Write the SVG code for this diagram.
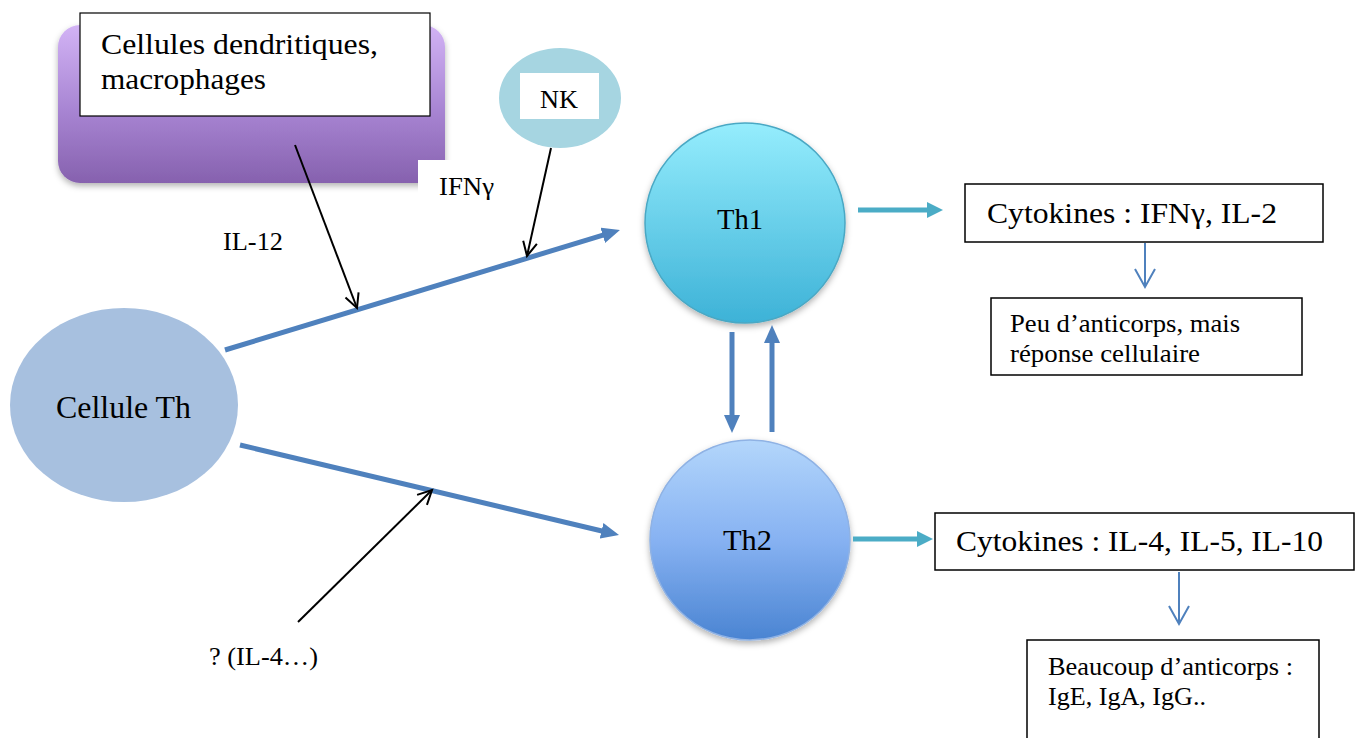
<svg xmlns="http://www.w3.org/2000/svg" width="1362" height="738" viewBox="0 0 1362 738">
<style>
  text { font-family: "Liberation Serif", "Times New Roman", serif; fill: #000; }
  .box { fill: #fff; stroke: #000; stroke-width: 1.5; }
  .thick { stroke: #4f81bd; stroke-width: 5; fill: none; }
  .teal { stroke: #4bacc6; stroke-width: 5; fill: none; }
  .blk { stroke: #000; stroke-width: 2; fill: none; }
  .thin { stroke: #4f81bd; stroke-width: 2; fill: none; }
</style>
<defs>
  <linearGradient id="gPurple" x1="0" y1="0" x2="0" y2="1">
    <stop offset="0" stop-color="#d2b3f5"/>
    <stop offset="0.55" stop-color="#a784d2"/>
    <stop offset="1" stop-color="#8661ae"/>
  </linearGradient>
  <linearGradient id="gTh1" x1="0" y1="0" x2="0" y2="1">
    <stop offset="0" stop-color="#95edfd"/>
    <stop offset="1" stop-color="#3db2d7"/>
  </linearGradient>
  <linearGradient id="gTh2" x1="0" y1="0" x2="0" y2="1">
    <stop offset="0" stop-color="#b3d6fb"/>
    <stop offset="0.5" stop-color="#87b2f2"/>
    <stop offset="1" stop-color="#4a84d2"/>
  </linearGradient>
  <filter id="shadow" x="-10%" y="-10%" width="120%" height="130%">
    <feDropShadow dx="0" dy="3" stdDeviation="3" flood-color="#000" flood-opacity="0.3"/>
  </filter>
  <marker id="mBlue" markerUnits="userSpaceOnUse" markerWidth="18" markerHeight="16" viewBox="0 0 18 16" refX="8" refY="8" orient="auto">
    <path d="M0,0 L18,8 L0,16 z" fill="#4f81bd"/>
  </marker>
  <marker id="mTeal" markerUnits="userSpaceOnUse" markerWidth="16" markerHeight="16" viewBox="0 0 16 16" refX="6" refY="8" orient="auto">
    <path d="M0,0 L16,8 L0,16 z" fill="#4bacc6"/>
  </marker>
  <marker id="mBlack" markerUnits="userSpaceOnUse" markerWidth="18" markerHeight="18" viewBox="0 0 18 18" refX="15" refY="9" orient="auto">
    <path d="M1,2 L15,9 L1,16" fill="none" stroke="#000" stroke-width="2"/>
  </marker>
  <marker id="mThin" markerUnits="userSpaceOnUse" markerWidth="22" markerHeight="24" viewBox="0 0 22 24" refX="19" refY="12" orient="auto">
    <path d="M1,2 L19,12 L1,22" fill="none" stroke="#4f81bd" stroke-width="2"/>
  </marker>
  <clipPath id="clipPeu"><rect x="991" y="298" width="311" height="69"/></clipPath>
</defs>

<rect width="1362" height="738" fill="#fff"/>

<g id="node-dendritic">
  <rect x="58" y="25" width="387" height="158" rx="22" fill="url(#gPurple)" filter="url(#shadow)"/>
  <rect class="box" x="80" y="13" width="350" height="103" style="stroke-width:1.2"/>
  <text x="101" y="54" font-size="30" textLength="277" lengthAdjust="spacingAndGlyphs">Cellules dendritiques,</text>
  <text x="101" y="89" font-size="30" textLength="165" lengthAdjust="spacingAndGlyphs">macrophages</text>
</g>

<g id="label-ifng">
  <rect x="418" y="160" width="100" height="50" fill="#fff"/>
  <text x="439" y="195" font-size="26" textLength="55" lengthAdjust="spacingAndGlyphs">IFNγ</text>
</g>

<g id="node-nk">
  <ellipse cx="560" cy="98" rx="61" ry="50" fill="#a6d5e1"/>
  <rect x="520" y="73" width="79" height="46" fill="#fff"/>
  <text x="540" y="108" font-size="26" textLength="38" lengthAdjust="spacingAndGlyphs">NK</text>
</g>

<g id="label-il12">
  <text x="223" y="250" font-size="26" textLength="60" lengthAdjust="spacingAndGlyphs">IL-12</text>
</g>

<g id="node-cellule-th">
  <ellipse cx="124" cy="405" rx="114" ry="97" fill="#a7c0df"/>
  <text x="56" y="418" font-size="32" textLength="135" lengthAdjust="spacingAndGlyphs">Cellule Th</text>
</g>

<g id="label-il4">
  <text x="209" y="665" font-size="26" textLength="109" lengthAdjust="spacingAndGlyphs">? (IL-4…)</text>
</g>

<g id="node-th1">
  <circle cx="745" cy="223" r="100" fill="url(#gTh1)" stroke="#4aa8c4" stroke-width="1.5" filter="url(#shadow)"/>
  <text x="717" y="229" font-size="30" textLength="46" lengthAdjust="spacingAndGlyphs">Th1</text>
</g>

<g id="node-th2">
  <circle cx="750" cy="540" r="100" fill="url(#gTh2)" stroke="#8fb2e4" stroke-width="1.5" filter="url(#shadow)"/>
  <text x="723" y="550" font-size="30" textLength="49" lengthAdjust="spacingAndGlyphs">Th2</text>
</g>

<g id="node-cyto1">
  <rect class="box" x="965" y="184" width="358" height="58"/>
  <text x="987" y="223" font-size="30" textLength="290" lengthAdjust="spacingAndGlyphs">Cytokines : IFNγ, IL-2</text>
</g>

<g id="node-peu">
  <rect class="box" x="991" y="298" width="311" height="77"/>
  <g clip-path="url(#clipPeu)">
    <text x="1010" y="332" font-size="25" textLength="230" lengthAdjust="spacingAndGlyphs">Peu d’anticorps, mais</text>
    <text x="1010" y="362" font-size="25" textLength="190" lengthAdjust="spacingAndGlyphs">réponse cellulaire</text>
  </g>
</g>

<g id="node-cyto2">
  <rect class="box" x="935" y="513" width="419" height="57"/>
  <text x="956" y="551" font-size="30" textLength="367" lengthAdjust="spacingAndGlyphs">Cytokines : IL-4, IL-5, IL-10</text>
</g>

<g id="node-beaucoup">
  <rect class="box" x="1027" y="640" width="292" height="120"/>
  <text x="1048" y="675" font-size="25" textLength="245" lengthAdjust="spacingAndGlyphs">Beaucoup d’anticorps :</text>
  <text x="1048" y="705" font-size="25" textLength="158" lengthAdjust="spacingAndGlyphs">IgE, IgA, IgG..</text>
</g>

<g id="connectors">
  <line class="thick" x1="225" y1="350" x2="610.4" y2="232.9" marker-end="url(#mBlue)"/>
  <line class="thick" x1="240" y1="445" x2="609.3" y2="532.7" marker-end="url(#mBlue)"/>
  <line class="thick" x1="732" y1="332" x2="732" y2="423" marker-end="url(#mBlue)"/>
  <line class="thick" x1="772" y1="432" x2="772" y2="335" marker-end="url(#mBlue)"/>
  <line class="teal" x1="858" y1="210" x2="933" y2="210" marker-end="url(#mTeal)"/>
  <line class="teal" x1="853" y1="539" x2="923" y2="539" marker-end="url(#mTeal)"/>
  <line class="blk" x1="295" y1="145" x2="357" y2="308" marker-end="url(#mBlack)"/>
  <line class="blk" x1="551" y1="148" x2="527" y2="256" marker-end="url(#mBlack)"/>
  <line class="blk" x1="298" y1="622" x2="432" y2="490" marker-end="url(#mBlack)"/>
  <line class="thin" x1="1145" y1="243" x2="1145" y2="287" marker-end="url(#mThin)"/>
  <line class="thin" x1="1179" y1="572" x2="1179" y2="624" marker-end="url(#mThin)"/>
</g>
</svg>
